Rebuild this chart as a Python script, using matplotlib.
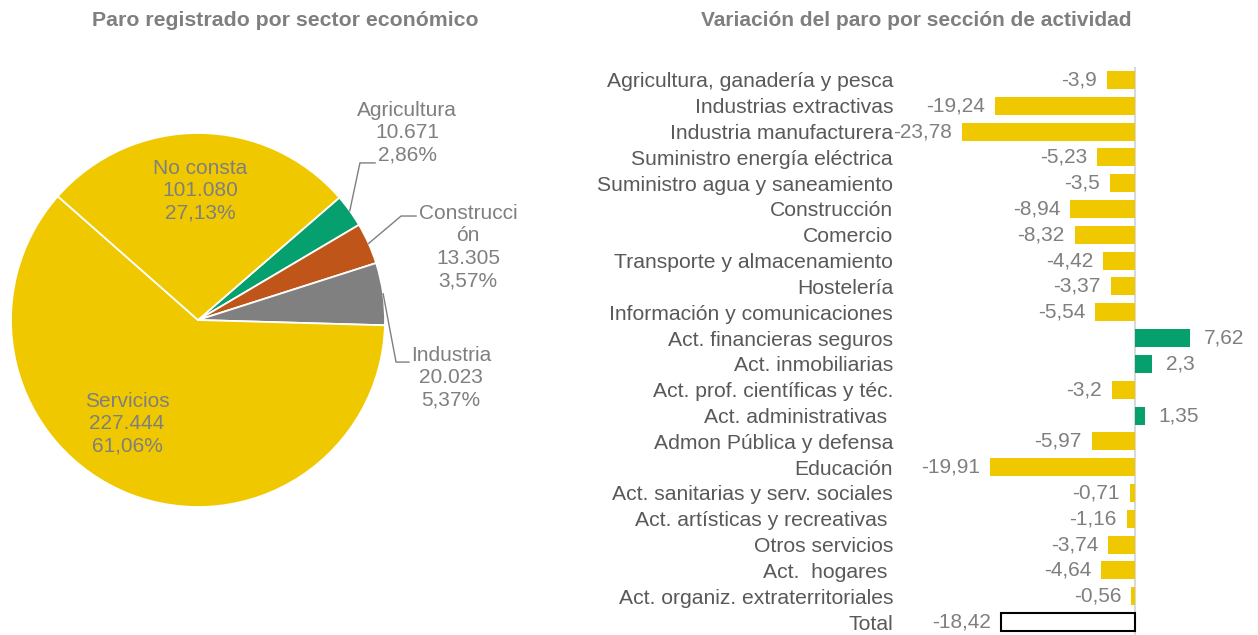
import numpy as np
import matplotlib.pyplot as plt

plt.rcParams['font.family'] = ['Liberation Sans', 'DejaVu Sans']

# pie data
sectores = ["Agricultura", "Construcci\nón", "Industria", "Servicios", "No consta"]
parados = [10671, 13305, 20023, 227444, 101080]
colores_pie = ["#05A06D", "#C05519", "#808080", "#F0C800", "#F0C800"]

# bar data
secciones = ["Agricultura, ganadería y pesca", "Industrias extractivas",
             "Industria manufacturera", "Suministro energía eléctrica",
             "Suministro agua y saneamiento", "Construcción", "Comercio",
             "Transporte y almacenamiento", "Hostelería",
             "Información y comunicaciones", "Act. financieras seguros",
             "Act. inmobiliarias", "Act. prof. científicas y téc.",
             "Act. administrativas ", "Admon Pública y defensa", "Educación",
             "Act. sanitarias y serv. sociales", "Act. artísticas y recreativas ",
             "Otros servicios", "Act.  hogares ", "Act. organiz. extraterritoriales",
             "Total"]
variacion = [-3.9, -19.24, -23.78, -5.23, -3.5, -8.94, -8.32, -4.42, -3.37,
             -5.54, 7.62, 2.3, -3.2, 1.35, -5.97, -19.91, -0.71, -1.16,
             -3.74, -4.64, -0.56, -18.42]

GRIS = "#7F7F7F"
W, H = 1258, 635
fig = plt.figure(figsize=(W / 100, H / 100), dpi=100)

# ---- pie ----
cx, cy, r = 198, 320, 187
ax1 = fig.add_axes([(cx - r) / W, (H - cy - r) / H, 2 * r / W, 2 * r / H])
total = sum(parados)
wedges, _ = ax1.pie(parados, colors=colores_pie, startangle=40.9, counterclock=False,
                    radius=1, wedgeprops=dict(edgecolor="white", linewidth=1.3))
ax1.set_xlim(-1, 1)
ax1.set_ylim(-1, 1)
ax1.set_aspect("equal")
ax1.axis("off")

# label positions (pie data coords) and leader elbows
pos = {0: (1.118, 1.0), 1: (1.444, 0.39), 2: (1.353, -0.31),
       3: (-0.38, -0.556), 4: (0.01, 0.69)}
codos = {0: [(0.866, 0.84), (0.947, 0.84)],
         1: [(1.086, 0.556), (1.166, 0.556)],
         2: [(1.059, -0.225), (1.128, -0.225)]}
for i, w in enumerate(wedges):
    pct = parados[i] / total * 100
    txt = "%s\n%s\n%s%%" % (sectores[i], f"{parados[i]:,}".replace(",", "."),
                           f"{pct:.2f}".replace(".", ","))
    ax1.text(*pos[i], txt, ha="center", va="center", fontsize=15, color=GRIS,
             linespacing=1.22, clip_on=False)
    if i in codos:
        ang = np.deg2rad((w.theta1 + w.theta2) / 2)
        pts = [(np.cos(ang), np.sin(ang))] + codos[i]
        xs, ys = zip(*pts)
        ax1.plot(xs, ys, color=GRIS, lw=1, clip_on=False)

fig.text(285 / W, 1 - 20 / H, "Paro registrado por sector económico", ha="center",
         va="center", fontsize=15.3, fontweight="bold", color=GRIS)

# ---- bars ----
x0, x1 = 900, 1215
zero = 1135
ppu = 7.27
ax2 = fig.add_axes([x0 / W, 0, (x1 - x0) / W, (H - 67) / H])
y = np.arange(len(secciones))
colores_bar = []
for i, v in enumerate(variacion):
    if secciones[i] == "Total":
        colores_bar.append("white")
    elif v < 0:
        colores_bar.append("#F0C800")
    else:
        colores_bar.append("#05A06D")
bars = ax2.barh(y, variacion, height=0.7, color=colores_bar)
bars[-1].set_edgecolor("black")
bars[-1].set_linewidth(1.5)
ax2.set_xlim(-(zero - x0) / ppu, (x1 - zero) / ppu)
ax2.set_ylim(len(secciones) - 0.5, -0.5)
ax2.axvline(0, color="#D9D9D9", lw=1.5, zorder=0)
for s in ax2.spines.values():
    s.set_visible(False)
ax2.set_xticks([])
ax2.set_yticks(y)
ax2.set_yticklabels(secciones, fontsize=15.2, color="#595959")
ax2.tick_params(axis="y", length=0, pad=5)
for i, v in enumerate(variacion):
    lab = f"{v:g}".replace(".", ",")
    off = -7 if v < 0 else 10
    ax2.annotate(lab, (v, i), xytext=(off, 0), textcoords="offset points",
                 ha="right" if v < 0 else "left", va="center", fontsize=15,
                 color=GRIS, annotation_clip=False)

fig.text(916 / W, 1 - 20 / H, "Variación del paro por sección de actividad",
         ha="center", va="center", fontsize=15, fontweight="bold", color=GRIS)

fig.savefig("out.png", dpi=100, facecolor="white")
